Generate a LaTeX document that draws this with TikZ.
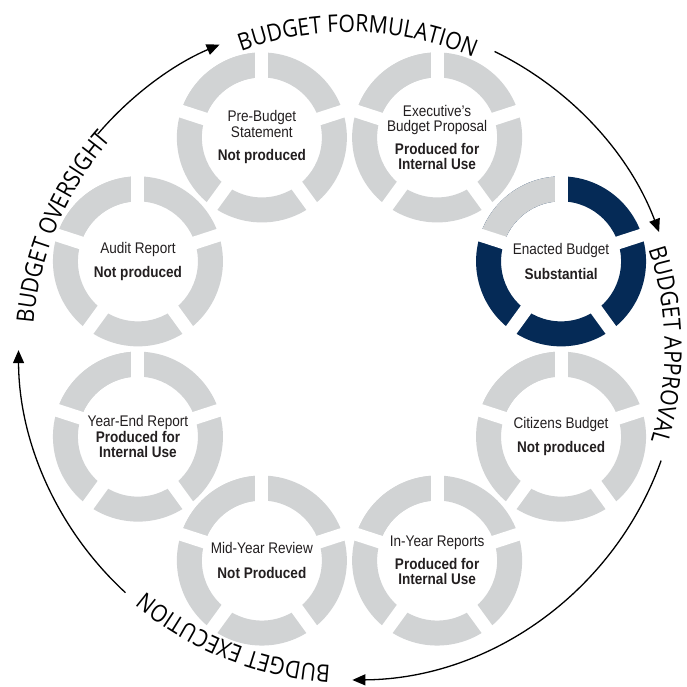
\documentclass[tikz,border=0pt]{standalone}
\usepackage{fontspec}
\setmainfont{Liberation Sans}[FakeStretch=0.88]
\newfontfamily\stagefont{Open Sans}[FakeStretch=0.88]
\usetikzlibrary{arrows.meta,decorations.text}
\definecolor{ringgray}{RGB}{209,211,212}
\definecolor{budgetnavy}{RGB}{5,42,86}
\definecolor{inktext}{RGB}{35,31,32}

\begin{document}
\begin{tikzpicture}[%
  x=1pt, y=1pt,
  doc/.style={align=center, text=inktext, font=\fontsize{15.4}{15.5}\selectfont},
  cycle arrow/.style={line width=1.3pt, -{Triangle[length=13pt, width=11pt]}},
  stagelabel/.style={decorate, decoration={text along path, text align=center,
      text={|\stagefont\fontsize{24}{24}\selectfont|#1}}},]
  \useasboundingbox (-349.5,-338) rectangle (336.5,349);
  % the eight documents
  \foreach \ang/\nm/\col/\txt in {%
      112.5/pre/ringgray/{Pre-Budget\\Statement\\[8pt]\textbf{Not produced}},
      67.5/exec/ringgray/{Executive’s\\Budget Proposal\\[7pt]\textbf{Produced for}\\\textbf{Internal Use}},
      22.5/enacted/budgetnavy/{Enacted Budget\\[9pt]\textbf{Substantial}},
      -22.5/citizens/ringgray/{Citizens Budget\\[8pt]\textbf{Not produced}},
      -67.5/inyear/ringgray/{In-Year Reports\\[7pt]\textbf{Produced for}\\\textbf{Internal Use}},
      -112.5/midyear/ringgray/{Mid-Year Review\\[9pt]\textbf{Not Produced}},
      -157.5/yearend/ringgray/{Year-End Report\\\textbf{Produced for}\\\textbf{Internal Use}},
      157.5/audit/ringgray/{Audit Report\\[9pt]\textbf{Not produced}}}{
    \coordinate (\nm) at (\ang:229);
    \begin{scope}[shift={(\nm)}]
      \fill[\col, even odd rule] (0,0) circle (85) (0,0) circle (60);
      \fill[ringgray] (90:60) -- (90:85) arc[start angle=90, end angle=162, radius=85]
        -- (162:60) arc[start angle=162, end angle=90, radius=60] -- cycle;
      \foreach \g in {90,18,-54,-126,162}
        \draw[white, line width=13pt] (0,0) -- (\g:87);
    \end{scope}
    \node[doc] (\nm-txt) at (\nm) {\txt};
  }
  % the budget cycle
  \draw[cycle arrow] (64:331) arc[start angle=64, end angle=20.7, radius=331];
  \draw[cycle arrow] (-19.7:331) arc[start angle=-19.7, end angle=-89.5, radius=331];
  \draw[cycle arrow] (227.4:331) arc[start angle=227.4, end angle=180.2, radius=331];
  \draw[cycle arrow] (139.5:331) arc[start angle=139.5, end angle=113.1, radius=331];
  \path[stagelabel={BUDGET FORMULATION}] (123.5:317) arc[start angle=123.5, end angle=53.5, radius=317];
  \path[stagelabel={BUDGET APPROVAL}] (35.75:315) arc[start angle=35.75, end angle=-34.25, radius=315];
  \path[stagelabel={BUDGET EXECUTION}] (283.25:317) arc[start angle=283.25, end angle=213.25, radius=317];
  \path[stagelabel={BUDGET OVERSIGHT}] (192:317) arc[start angle=192, end angle=122, radius=317];
\end{tikzpicture}
\end{document}
